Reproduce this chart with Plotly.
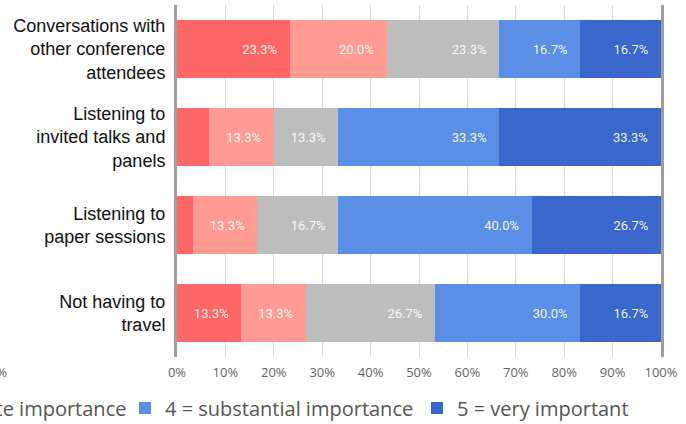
import plotly.graph_objects as go

categories = [
    "Conversations with<br>other conference<br>attendees",
    "Listening to<br>invited talks and<br>panels",
    "Listening to<br>paper sessions",
    "Not having to<br>travel",
]
series_names = [
    "1 = not important",
    "2 = slight importance",
    "3 = moderate importance",
    "4 = substantial importance",
    "5 = very important",
]
s1 = [23.3, 6.7, 3.3, 13.3]
s2 = [20.0, 13.3, 13.3, 13.3]
s3 = [23.3, 13.3, 16.7, 26.7]
s4 = [16.7, 33.3, 40.0, 30.0]
s5 = [16.7, 33.3, 26.7, 16.7]
tick_vals = [0, 10, 20, 30, 40, 50, 60, 70, 80, 90, 100]
tick_text = [f"{v}%" for v in tick_vals]

colors = ["#ff6666", "#ff9b92", "#bdbdbd", "#5b8ee6", "#3a67cc"]
series = [s1, s2, s3, s4, s5]
legend_on = [False, False, False, True, True]

W, H = 686, 424
L, R, T, B = 177, 25, 5, 67
pw, ph = W - L - R, H - T - B

fig = go.Figure()
for name, vals, col, show in zip(series_names, series, colors, legend_on):
    texts = [(f"{v:.1f}%" + "\u00a0\u00a0\u00a0") if v >= 10 else "" for v in vals]
    fig.add_trace(go.Bar(
        y=categories, x=vals, name=name, orientation="h",
        marker=dict(color=col, line=dict(width=0)),
        text=texts, textposition="inside", insidetextanchor="end",
        textfont=dict(color="rgba(255,255,255,0.92)", size=13, family="Roboto"),
        constraintext="none", showlegend=show, hoverinfo="skip",
    ))

def px_x(p):
    return (p - L) / pw

def px_y(p):
    return (H - B - p) / ph

fig.update_layout(
    width=W, height=H,
    barmode="stack", bargap=0.34,
    plot_bgcolor="white", paper_bgcolor="white",
    margin=dict(l=L, r=R, t=T, b=B, autoexpand=False),
    font=dict(family="Liberation Sans"),
    legend=dict(
        orientation="h", x=px_x(125), xanchor="left",
        y=px_y(408), yanchor="middle",
        font=dict(family="Open Sans", size=20, color="#555555"),
        entrywidth=247, itemwidth=30, traceorder="normal",
    ),
    xaxis=dict(
        range=[0, 100], tickmode="array", tickvals=tick_vals, ticktext=tick_text,
        showgrid=True, gridcolor="#dcdcdc", gridwidth=1,
        zeroline=False, showline=False,
        tickfont=dict(family="Open Sans", size=13, color="#666666"),
        ticklabelstandoff=6, fixedrange=True,
    ),
    yaxis=dict(
        autorange="reversed", showline=True, mirror=True,
        linecolor="#9e9e9e", linewidth=3, showgrid=False,
        tickfont=dict(family="Liberation Sans", size=18, color="#111111"),
        ticklabelstandoff=5, fixedrange=True,
    ),
    annotations=[
        dict(text="3 = moderate importance", xref="paper", yref="paper",
             x=px_x(128), y=px_y(408), xanchor="right", yanchor="middle",
             showarrow=False, font=dict(family="Open Sans", size=20, color="#555555")),
        dict(text="100%", xref="paper", yref="paper",
             x=px_x(9), y=px_y(372), xanchor="right", yanchor="middle",
             showarrow=False, font=dict(family="Open Sans", size=13, color="#666666")),
    ],
)

fig.write_html("out.html")
